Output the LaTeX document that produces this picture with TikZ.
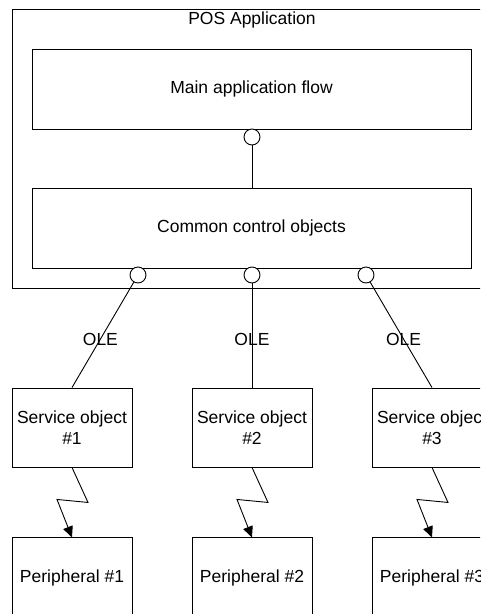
\documentclass[tikz,border=0pt]{standalone}
\usepackage{fontspec}
\setmainfont{Liberation Sans}
\usepackage{tikz}
\usetikzlibrary{shapes, arrows.meta, positioning}
\tikzstyle{frame} = [rectangle, draw=black, line width=0.9pt, inner sep=0pt]
\tikzstyle{layer} = [rectangle, minimum width=439pt, minimum height=80pt, text centered, draw=black, line width=0.9pt, fill=white]
\tikzstyle{service} = [rectangle, minimum width=120pt, minimum height=79pt, align=center, inner sep=0pt, draw=black, line width=0.9pt, fill=white]
\tikzstyle{port} = [circle, minimum size=16pt, inner sep=0pt, draw=black, line width=0.9pt, fill=white]
\tikzstyle{link} = [line width=0.9pt]
\tikzstyle{zigarrow} = [line width=0.9pt, -{Triangle[length=11pt, width=10pt]}]

\begin{document}
\begin{tikzpicture}[x=1pt, y=-1pt, font=\fontsize{17.5}{21}\selectfont]
\useasboundingbox (0,0) rectangle (480,614);
\clip (0,0) rectangle (480,614);

%==============================================
%POS application
%==============================================
\node (pos) [frame, minimum width=480pt, minimum height=279pt] at (252,148.5) {};
\node (title) at (252,20) {POS Application};
\node (flow) [layer] at (251.5,89) {Main application flow};
\node (ctrl) [layer] at (251.5,228) {Common control objects};

%Service objects==============================================
\node (so1) [service] at (72,427.5) {Service object\\\#1};
\node (so2) [service] at (252,427.5) {Service object\\\#2};
\node (so3) [service] at (432,427.5) {Service object\\\#3};

%Peripherals==============================================
\node (per1) [service, minimum height=80pt, below=70pt of so1] {Peripheral \#1};
\node (per2) [service, minimum height=80pt, below=70pt of so2] {Peripheral \#2};
\node (per3) [service, minimum height=80pt, below=70pt of so3] {Peripheral \#3};

%Ports==============================================
\node (pt0) [port] at (252,137) {};
\node (pt1) [port] at (138,275) {};
\node (pt2) [port] at (252,275) {};
\node (pt3) [port] at (366,275) {};

%==============================================
\draw [link] (pt0) -- (pt0 |- ctrl.north);
\draw [link] (pt1) -- node[pos=0.54] {OLE} (so1.north);
\draw [link] (pt2) -- node[pos=0.54] {OLE} (so2.north);
\draw [link] (pt3) -- node[pos=0.54] {OLE} (so3.north);
\draw [zigarrow] (so1.south) -- ++(16,35) -- ++(-31,-3) -- (per1.north);
\draw [zigarrow] (so2.south) -- ++(16,35) -- ++(-31,-3) -- (per2.north);
\draw [zigarrow] (so3.south) -- ++(16,35) -- ++(-31,-3) -- (per3.north);
\end{tikzpicture}
\end{document}
